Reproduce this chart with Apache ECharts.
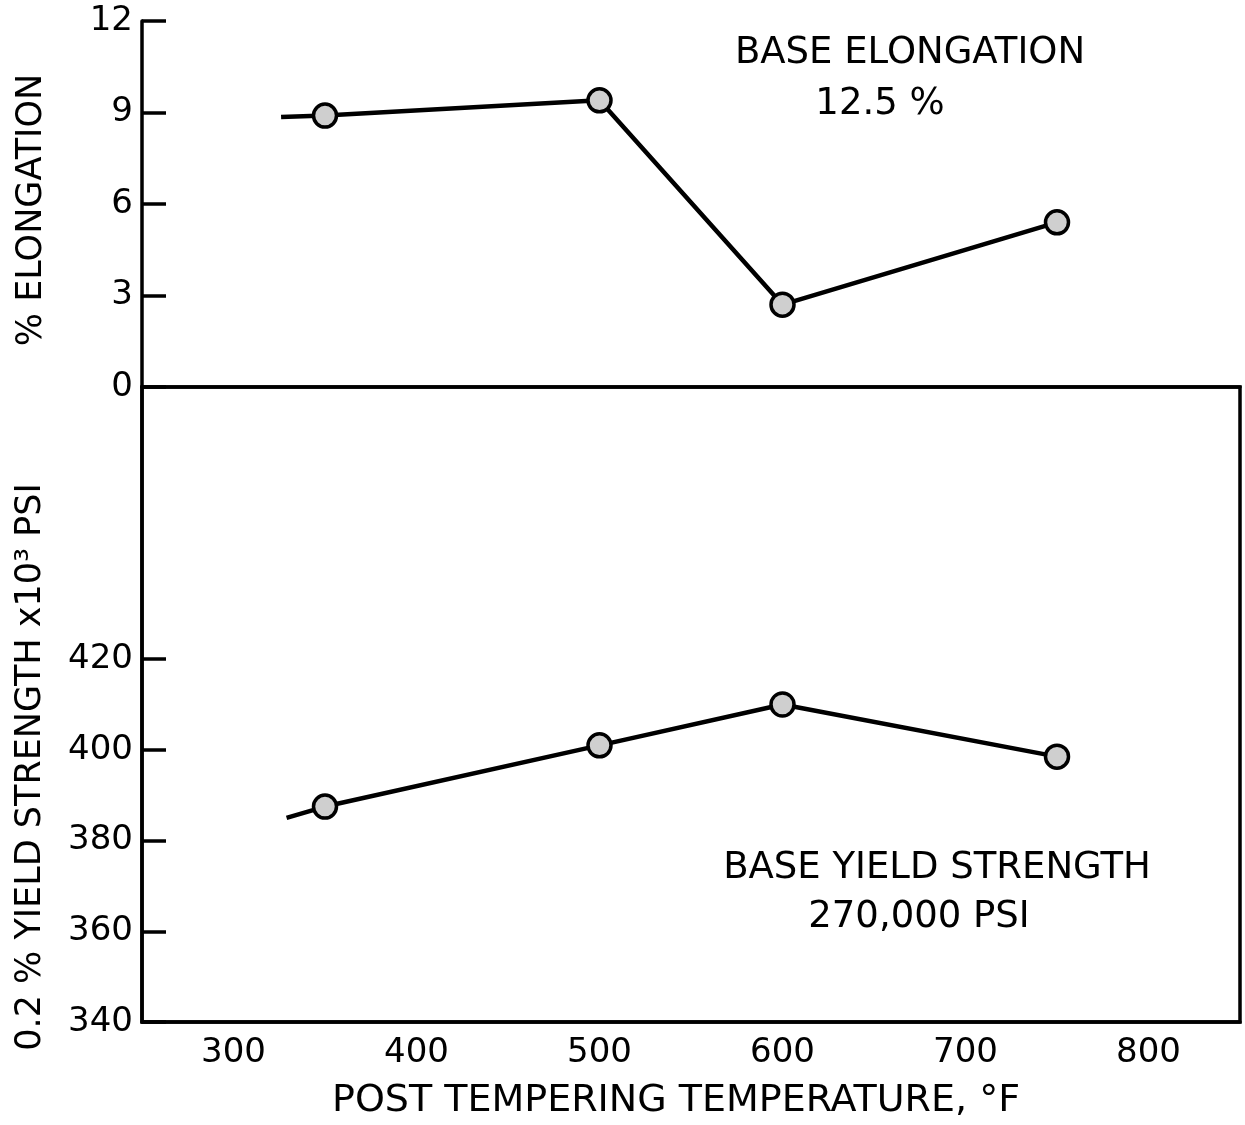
<!DOCTYPE html>
<html>
<head>
<meta charset="utf-8">
<script src="https://cdn.jsdelivr.net/npm/echarts@6/dist/echarts.min.js"></script>
<style>
html, body { margin: 0; padding: 0; background: #fff; }
#chart { width: 1245px; height: 1125px; }
</style>
</head>
<body>
<div id="chart"></div>
<script>
// post tempering temperature, deg F
var temps = [350, 500, 600, 750];
var elongation = [8.9, 9.4, 2.7, 5.4];
var yieldStrength = [387.5, 401, 410, 398.5];
// short lead-in stroke drawn left of the first point
var elongLead = [326, 8.85];
var yieldLead = [329, 385];

var xTicks = [300, 400, 500, 600, 700, 800];
var elongTicks = [0, 3, 6, 9, 12];
var yieldTicks = [340, 360, 380, 400, 420];

var font = "DejaVu Sans";

function buildData(lead, vals) {
  var out = [{ value: lead, symbol: "none" }];
  for (var i = 0; i < temps.length; i++) {
    out.push([temps[i], vals[i]]);
  }
  return out;
}

var black = { color: "#000", width: 3.5 };

var lineSeries = function(idx, data) {
  return {
    type: "line",
    xAxisIndex: idx,
    yAxisIndex: idx,
    data: data,
    symbol: "circle",
    symbolSize: 23,
    lineStyle: { color: "#000", width: 4.5 },
    itemStyle: { color: "#cfcfcf", borderColor: "#000", borderWidth: 3.5 },
    z: 5
  };
};

var mychart = echarts.init(document.getElementById("chart"));
var option = {
  animation: false,
  backgroundColor: "#fff",
  grid: [
    { left: 142, top: 21, width: 1098, height: 366 },
    { left: 142, top: 387, width: 1098, height: 635, show: true, borderColor: "#000", borderWidth: 3.5 }
  ],
  xAxis: [
    {
      gridIndex: 0, type: "value", min: 250, max: 850, position: "top",
      axisLine: { show: true, lineStyle: black },
      axisTick: { show: false }, axisLabel: { show: false }, splitLine: { show: false }
    },
    {
      gridIndex: 1, type: "value", min: 250, max: 850, position: "bottom",
      axisLine: { show: true, lineStyle: black },
      axisTick: { show: false },
      axisLabel: { customValues: xTicks, color: "#000", fontSize: 34, fontFamily: font, margin: 14 },
      splitLine: { show: false }
    }
  ],
  yAxis: [
    {
      gridIndex: 0, type: "value", min: 0, max: 12, interval: 3,
      axisLine: { show: true, lineStyle: black },
      axisTick: { show: true, inside: true, length: 24, lineStyle: black, customValues: elongTicks },
      axisLabel: { customValues: elongTicks, color: "#000", fontSize: 34, fontFamily: font, margin: 9 },
      splitLine: { show: false }
    },
    {
      gridIndex: 1, type: "value", min: 340, max: 480, interval: 20,
      axisLine: { show: true, lineStyle: black },
      axisTick: { show: true, inside: true, length: 24, lineStyle: black, customValues: yieldTicks },
      axisLabel: { customValues: yieldTicks, color: "#000", fontSize: 34, fontFamily: font, margin: 9 },
      splitLine: { show: false }
    }
  ],
  series: [
    lineSeries(0, buildData(elongLead, elongation)),
    lineSeries(1, buildData(yieldLead, yieldStrength))
  ],
  graphic: [
    {
      type: "text", x: 32, y: 210, rotation: Math.PI / 2,
      style: { text: "% ELONGATION", font: "35px " + font, fill: "#000", align: "center", verticalAlign: "middle" }
    },
    {
      type: "text", x: 31, y: 767, rotation: Math.PI / 2,
      style: { text: "0.2 % YIELD STRENGTH x10³ PSI", font: "35px " + font, fill: "#000", align: "center", verticalAlign: "middle" }
    },
    {
      type: "text", x: 676, y: 1101,
      style: { text: "POST TEMPERING TEMPERATURE, °F", font: "38px " + font, fill: "#000", align: "center", verticalAlign: "middle" }
    },
    {
      type: "text", x: 910, y: 53,
      style: { text: "BASE ELONGATION", font: "37px " + font, fill: "#000", align: "center", verticalAlign: "middle" }
    },
    {
      type: "text", x: 880, y: 104,
      style: { text: "12.5 %", font: "37px " + font, fill: "#000", align: "center", verticalAlign: "middle" }
    },
    {
      type: "text", x: 937, y: 868,
      style: { text: "BASE YIELD STRENGTH", font: "37px " + font, fill: "#000", align: "center", verticalAlign: "middle" }
    },
    {
      type: "text", x: 919, y: 917,
      style: { text: "270,000 PSI", font: "37px " + font, fill: "#000", align: "center", verticalAlign: "middle" }
    }
  ]
};
mychart.setOption(option);
</script>
</body>
</html>
